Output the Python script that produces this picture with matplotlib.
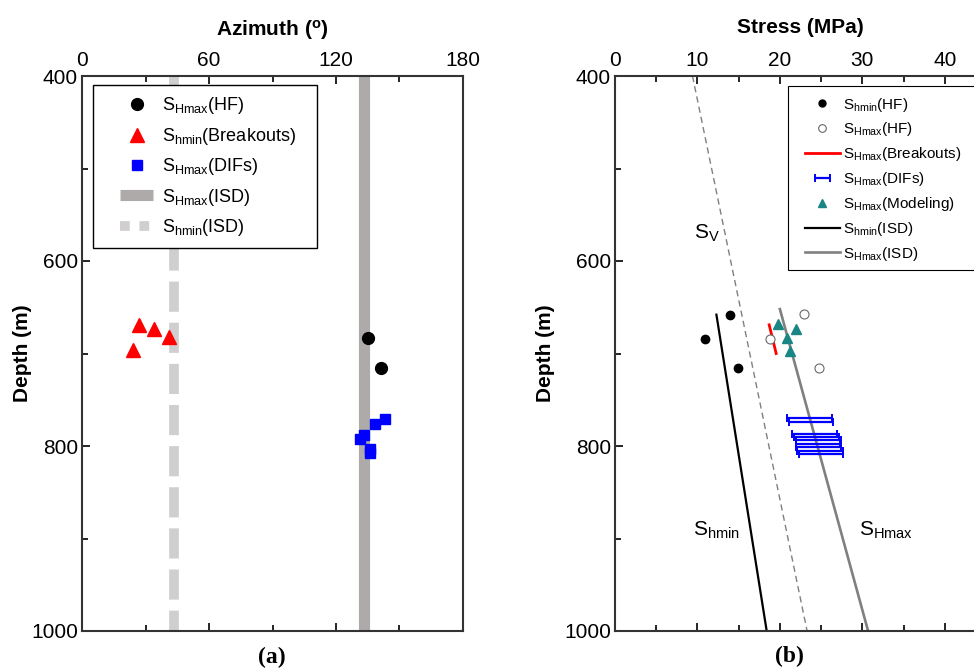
import matplotlib
matplotlib.use('Agg')
import numpy as np
import matplotlib.pyplot as plt
from matplotlib.lines import Line2D
from matplotlib.patches import Rectangle
from matplotlib.ticker import MultipleLocator

plt.rcParams['font.family'] = ['Liberation Sans', 'DejaVu Sans']
plt.rcParams['mathtext.default'] = 'regular'

# ---- panel (a): azimuth vs depth ----
hf_az = [135.3, 141.1]
hf_az_depth = [683.5, 715.5]
bo_az = [27.1, 34.0, 41.1, 24.0]
bo_az_depth = [669, 673, 682.5, 696]
dif_az = [143.1, 138.4, 133.2, 131.2, 136.2, 136.2]
dif_az_depth = [771, 776.5, 788, 792, 803, 807.5]
isd_shmax_az = 133.2
isd_shmin_az = 43.7
depth_range = [400, 1000]

# ---- panel (b): stress vs depth ----
hf_shmin = [14.0, 10.9, 14.95]
hf_shmin_depth = [658, 684, 715.3]
hf_shmax = [22.9, 18.75, 24.7]
hf_shmax_depth = [657.6, 684, 715.3]
bo_shmax = [18.7, 19.55]
bo_shmax_depth = [669, 700]
dif_low = [20.9, 21.1, 21.45, 21.7, 21.9, 21.9, 22.0, 22.1, 22.3]
dif_high = [26.3, 26.4, 26.95, 27.2, 27.4, 27.35, 27.4, 27.6, 27.7]
dif_depth = [769.4, 774, 787, 790.3, 794, 797.8, 801.4, 805, 808.6]
model_shmax = [19.8, 22.0, 20.9, 21.25]
model_depth = [668.5, 673.2, 683.6, 697]
isd_shmin = [12.3, 18.4]
isd_shmin_depth = [658, 1000]
isd_shmax = [20.0, 30.7]
isd_shmax_depth = [652, 1000]
sv = [9.4, 23.3]
sv_depth = [400, 1000]

band_dark = '#aeaaaa'
band_light = '#d0cece'
teal = '#1a8585'

fig = plt.figure(figsize=(9.74, 6.7), dpi=100)
W, H = 974, 670


def place(x0, y0, x1, y1):
    return [x0 / W, 1 - y1 / H, (x1 - x0) / W, (y1 - y0) / H]


def fx(x):
    return x / W


def fy(y):
    return 1 - y / H


ax1 = fig.add_axes(place(82, 76, 463, 631))
ax2 = fig.add_axes(place(615, 76, 986, 631))

# panel (a)
ax1.plot([isd_shmax_az] * 2, depth_range, color=band_dark, lw=8, solid_capstyle='butt', zorder=1)
ax1.plot([isd_shmin_az] * 2, depth_range, color=band_light, lw=7,
         linestyle=(0, (3.1, 1.13)), dash_capstyle='butt', zorder=1)
ax1.plot(hf_az, hf_az_depth, 'o', color='black', ms=8.5, zorder=3)
ax1.plot(bo_az, bo_az_depth, '^', color='red', ms=10, zorder=3)
ax1.plot(dif_az, dif_az_depth, 's', color='blue', ms=7.7, zorder=3)

ax1.set_xlim(0, 180)
ax1.set_ylim(1000, 400)
ax1.xaxis.tick_top()
ax1.xaxis.set_label_position('top')
ax1.set_xticks([0, 60, 120, 180])
ax1.xaxis.set_minor_locator(MultipleLocator(30))
ax1.set_xlabel(r'Azimuth ($^o$)', fontsize=15, fontweight='bold', labelpad=11)

handles_a = [
    Line2D([], [], marker='o', color='black', ls='none', ms=8.5),
    Line2D([], [], marker='^', color='red', ls='none', ms=10),
    Line2D([], [], marker='s', color='blue', ls='none', ms=7.7),
    Line2D([], [], color=band_dark, lw=8, solid_capstyle='butt'),
    Line2D([], [], color=band_light, lw=7, linestyle=(0, (1, 1)), dash_capstyle='butt'),
]
labels_a = [r'S$_{Hmax}$(HF)', r'S$_{hmin}$(Breakouts)', r'S$_{Hmax}$(DIFs)',
            r'S$_{Hmax}$(ISD)', r'S$_{hmin}$(ISD)']
ax1.add_patch(Rectangle((fx(93), fy(248)), fx(317) - fx(93), fy(85) - fy(248),
                        transform=fig.transFigure, facecolor='white', edgecolor='black',
                        lw=1.0, clip_on=False, zorder=4.5))
ax1.legend(handles_a, labels_a, loc='upper left', bbox_to_anchor=(fx(120), fy(95.5)),
           bbox_transform=fig.transFigure, fontsize=13, frameon=False,
           handlelength=1.83, handletextpad=0.5, labelspacing=0.52,
           borderpad=0, borderaxespad=0)

# panel (b)
ax2.plot(sv, sv_depth, color='gray', lw=1, linestyle=(0, (4.5, 3)), zorder=1)
ax2.plot(isd_shmin, isd_shmin_depth, color='black', lw=1.6, zorder=2)
ax2.plot(isd_shmax, isd_shmax_depth, color='gray', lw=1.9, zorder=2)
ax2.plot(bo_shmax, bo_shmax_depth, color='red', lw=2, zorder=3)
dif_low = np.array(dif_low)
dif_high = np.array(dif_high)
dif_bars = ax2.errorbar((dif_low + dif_high) / 2, dif_depth, xerr=(dif_high - dif_low) / 2,
                        fmt='none', ecolor='blue', elinewidth=1.6, capsize=3, capthick=1.4,
                        zorder=3)
ax2.plot(hf_shmin, hf_shmin_depth, 'o', color='black', ms=6, zorder=4)
ax2.plot(hf_shmax, hf_shmax_depth, 'o', mfc='white', mec='dimgray', mew=0.8, ms=6.5, zorder=4)
ax2.plot(model_shmax, model_depth, '^', color=teal, ms=7, zorder=4)

fig.text(fx(707), fy(233), r'S$_V$', fontsize=15, ha='center', va='center')
fig.text(fx(716), fy(530), r'S$_{hmin}$', fontsize=15, ha='center', va='center')
fig.text(fx(886), fy(530), r'S$_{Hmax}$', fontsize=15, ha='center', va='center')

ax2.set_xlim(0, 45)
ax2.set_ylim(1000, 400)
ax2.xaxis.tick_top()
ax2.xaxis.set_label_position('top')
ax2.set_xticks([0, 10, 20, 30, 40])
ax2.xaxis.set_minor_locator(MultipleLocator(5))
ax2.set_xlabel('Stress (MPa)', fontsize=15, fontweight='bold', labelpad=13)

handles_b = [
    Line2D([], [], marker='o', color='black', ls='none', ms=5),
    Line2D([], [], marker='o', mfc='white', mec='dimgray', mew=0.8, ls='none', ms=5.5),
    Line2D([], [], color='red', lw=2),
    dif_bars,
    Line2D([], [], marker='^', color=teal, ls='none', ms=6),
    Line2D([], [], color='black', lw=1.6),
    Line2D([], [], color='gray', lw=1.9),
]
labels_b = [r'S$_{hmin}$(HF)', r'S$_{Hmax}$(HF)', r'S$_{Hmax}$(Breakouts)', r'S$_{Hmax}$(DIFs)',
            r'S$_{Hmax}$(Modeling)', r'S$_{hmin}$(ISD)', r'S$_{Hmax}$(ISD)']
ax2.add_patch(Rectangle((fx(788), fy(270)), fx(1000) - fx(788), fy(86) - fy(270),
                        transform=fig.transFigure, facecolor='white', edgecolor='black',
                        lw=0.8, clip_on=False, zorder=4.5))
ax2.legend(handles_b, labels_b, loc='upper left', bbox_to_anchor=(fx(805), fy(95.5)),
           bbox_transform=fig.transFigure, fontsize=11, frameon=False,
           handlelength=2.29, handletextpad=0.2, labelspacing=0.45,
           borderpad=0, borderaxespad=0)

ylabel_x = {ax1: (32 - 82) / 381, ax2: (555 - 615) / 371}
for ax in (ax1, ax2):
    ax.yaxis.set_major_locator(MultipleLocator(200))
    ax.yaxis.set_minor_locator(MultipleLocator(100))
    ax.set_ylabel('Depth (m)', fontsize=15, fontweight='bold')
    ax.yaxis.set_label_coords(ylabel_x[ax], 0.5)
    ax.tick_params(axis='x', which='both', direction='in', top=True, bottom=True,
                   labeltop=True, labelbottom=False, labelsize=15, pad=4)
    ax.tick_params(axis='x', which='major', length=6, width=1.2)
    ax.tick_params(axis='x', which='minor', length=4, width=1.2)
    ax.tick_params(axis='y', which='both', direction='in', left=True, right=False,
                   labelsize=15, pad=3)
    ax.tick_params(axis='y', which='major', length=6, width=1.2)
    ax.tick_params(axis='y', which='minor', length=4, width=1.2)
    for s in ax.spines.values():
        s.set_linewidth(1.5)
        s.set_color('#333333')

fig.text(fx(272), fy(657), '(a)', family='Liberation Serif', fontweight='bold',
         fontsize=17, ha='center', va='center')
fig.text(fx(789), fy(656), '(b)', family='Liberation Serif', fontweight='bold',
         fontsize=17, ha='center', va='center')

fig.savefig('out.png', dpi=100)
